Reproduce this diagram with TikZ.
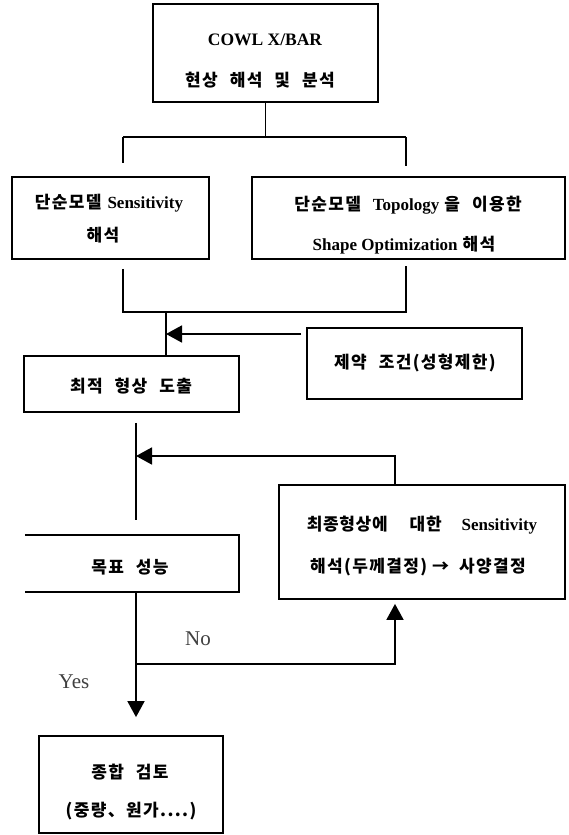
\documentclass[tikz,border=0pt]{standalone}
\usepackage{fontspec}
\setmainfont{Liberation Serif}
\newfontfamily\ko[LetterSpace=8]{Noto Sans CJK KR}
\newfontfamily\kon[LetterSpace=4]{Noto Sans CJK KR}
\usetikzlibrary{arrows.meta}
\newcommand\K[1]{{\ko\bfseries #1}}
\newcommand\Kn[1]{{\kon\bfseries #1}}
\newcommand\E[1]{{\fontsize{17}{18}\selectfont\bfseries #1}}
\newcommand\ws{\hspace{12pt}}
\begin{document}
\begin{tikzpicture}[x=1pt,y=-1pt,
  box/.style={draw, line width=1.8pt, rectangle, inner sep=0pt},
  txt/.style={inner sep=0pt, font=\fontsize{17}{18}\selectfont},
  yn/.style={inner sep=0pt, font=\fontsize{21}{22}\selectfont, text=black!75},
  conn/.style={line width=1.8pt},
  >={Triangle[length=16pt,width=17pt]}]
\useasboundingbox (0,0) rectangle (569,835);
% boxes
\node[box, minimum width=225pt, minimum height=98pt] (box1) at (265.5,53) {};
\node[box, minimum width=197pt, minimum height=82pt] (box2) at (110.5,218) {};
\node[box, minimum width=313pt, minimum height=82pt] (box3) at (408.5,218) {};
\node[box, minimum width=215pt, minimum height=56pt] (opt) at (131.5,384) {};
\node[box, minimum width=215pt, minimum height=71pt] (cons) at (414.5,363.5) {};
\node[box, minimum width=286pt, minimum height=114pt] (fin) at (422,542) {};
\node[rectangle, inner sep=0pt, minimum width=214pt, minimum height=57pt] (goal) at (132,563.5) {};
\draw[conn] (goal.north west) -- (goal.north east) -- (goal.south east) -- (goal.south west);
\node[box, minimum width=184pt, minimum height=97pt] (rev) at (131,784.5) {};
% texts
\node[txt] (t1a) at (265,40) {{\fontsize{17.5}{18}\selectfont\bfseries COWL X/BAR}};
\node[txt] (t1b) at (260,80) {\K{현상\ws{}해석\ws{}및\ws{}분석}};
\node[txt] (t2a) at (109,203) {\K{단순모델}\hspace{6pt}\E{Sensitivity}};
\node[txt] (t2b) at (103,235) {\K{해석}};
\node[txt] (t3a) at (408,205) {\K{단순모델}\hspace{12pt}\E{Topology}\hspace{5pt}\K{을}\hspace{12pt}\K{이용한}};
\node[txt] (t3b) at (404,245) {\E{Shape Optimization}\hspace{5pt}\K{해석}};
\node[txt] (t4) at (131,386) {\K{최적\ws{}형상\ws{}도출}};
\node[txt] (t5) at (415,363) {\K{제약\ws{}조건(성형제한)}};
\node[txt] (t6a) at (422,525) {\Kn{최종형상에}\hspace{22pt}\Kn{대한}\hspace{20pt}\E{Sensitivity}};
\node[txt] (t6b) at (418,567) {\K{해석(두께결정)\hspace{5pt}→\hspace{10pt}사양결정}};
\node[txt] (t7) at (130,567) {\K{목표\ws{}성능}};
\node[txt] (t8a) at (130,772) {\K{종합\ws{}검토}};
\node[txt] (t8b) at (131,811) {\K{(중량、원가....)}};
\node[yn] (no) at (198,639) {No};
\node[yn] (yes) at (74,682) {Yes};
% connector coordinates
\coordinate (s1) at (123,137);
\coordinate (s2) at (406,137);
\coordinate (m1) at (123,312);
\coordinate (m2) at (406,312);
\coordinate (mj) at (166,312);
\coordinate (a1) at (166,334);
\coordinate (v) at (136,0);
\coordinate (a2) at (136,456);
\coordinate (f) at (395,0);
\coordinate (b1) at (136,664);
% connectors
\draw[conn] (box1.south) -- (box1.south |- s1);
\draw[conn] (s1) -- (s2);
\draw[conn, shorten >=13pt] (s1) -- (s1 |- box2.north);
\draw[conn, shorten >=10pt] (s2) -- (s2 |- box3.north);
\draw[conn, shorten <=9pt, shorten >=6pt] (box2.south -| m1) -- (m1) -- (m2) -- (box3.south -| m2);
\draw[conn] (mj) -- (mj |- opt.north);
\draw[conn, ->, shorten <=5pt] (cons.west |- a1) -- (a1);
\draw[conn, shorten <=10pt, shorten >=15pt] (opt.south -| v) -- (goal.north -| v);
\draw[conn, ->] (fin.north -| f) |- (a2);
\draw[conn, ->, shorten >=18pt] (goal.south -| v) -- (rev.north -| v);
\draw[conn, ->, shorten >=4pt] (b1) -| (fin.south -| f);
\end{tikzpicture}
\end{document}
